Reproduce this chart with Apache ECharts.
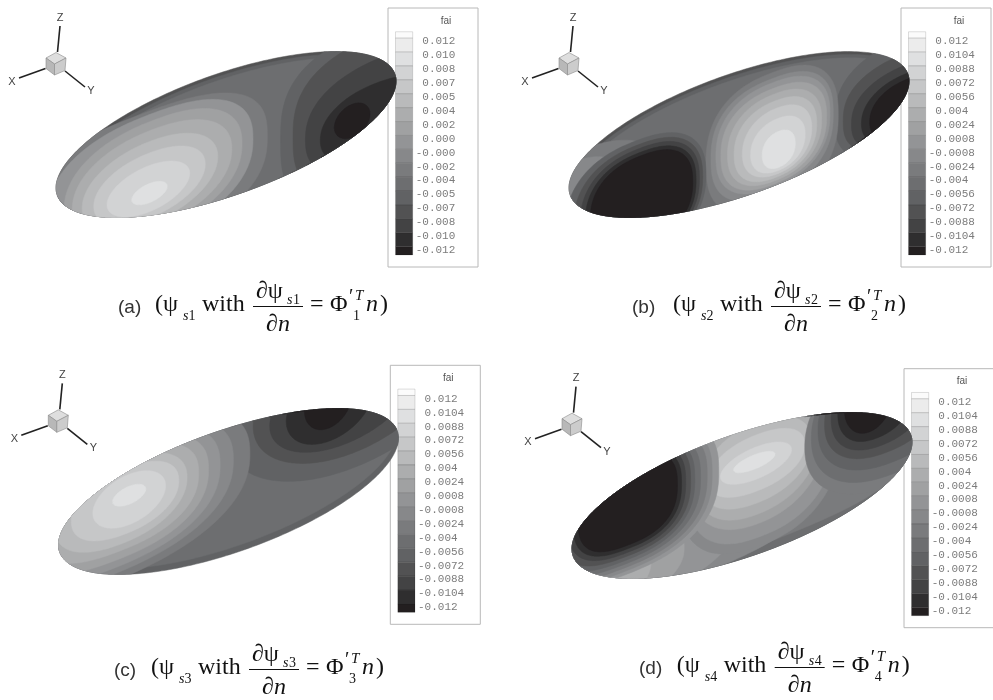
<!DOCTYPE html>
<html><head><meta charset="utf-8">
<style>html,body{margin:0;padding:0;background:#fff}#c{width:993px;height:700px}</style>
<script src="https://cdn.jsdelivr.net/npm/echarts@6/dist/echarts.min.js"></script></head>
<body><div id="c"></div>
<script>
// colour levels of the "fai" contour legend, top (largest) to bottom
const levelColors = ['#fbfbfb','#ececec','#dfe0e1','#d2d3d4','#c6c7c8','#b9babb','#acadae','#a0a1a2','#939496','#87888a','#7a7b7d','#6d6e70','#616264','#525253','#434344','#2f2e2f','#231f20'];
const ticksA = ['0.012','0.010','0.008','0.007','0.005','0.004','0.002','0.000','-0.000','-0.002','-0.004','-0.005','-0.007','-0.008','-0.010','-0.012'];
const ticksB = ['0.012','0.0104','0.0088','0.0072','0.0056','0.004','0.0024','0.0008','-0.0008','-0.0024','-0.004','-0.0056','-0.0072','-0.0088','-0.0104','-0.012'];
// rim bands: [level, shift of the outline across the body]
const rimA = [[13,0],[12,.05],[11,.11]];
const rimB = [[13,0],[12,.05],[11,.11]];
const rimC = [[12,0],[11,-.1]];
const rimD = [[13,0],[12,.04],[11,.09]];
// contour regions: [level, u min, u max, v min, v max, squareness]
// u runs along the long axis of the body, v across it
const contoursA = [
 [12,.33,1.6,-1.8,.85,3],[13,.405,1.6,-1.7,.7,2.8],[14,.48,1.5,-1.5,.3,2.4],[15,.57,1.25,-1.3,-.1,2.2],[16,.655,.87,-.85,-.3,2],
 [10,-1.3,.25,-1.45,.88,2.6],[8,-1.08,.163,-1.3,.82,2.4],[7,-.98,.097,-1.2,.7,2.3],[6,-.93,.035,-1.1,.55,2.2],[5,-.87,-.05,-1,.37,2.1],[4,-.8,-.126,-.9,.18,2.1],[3,-.72,-.22,-.8,-.03,2],[2,-.57,-.356,-.65,-.33,2]
];
const contoursB = [
 [10,-1.5,-.45,-1.5,.75,2.4],[9,-1.4,-.65,-1.5,.6,2.4],
 [12,.58,1.5,-1.3,.55,2.6],[13,.63,1.5,-1.2,.3,2.6],[14,.68,1.4,-1.2,.1,2.4],[15,.74,1.3,-1.15,-.05,2.2],
 [10,-.2,.6,-1.4,.82,2.5],[9,-.17,.57,-1.2,.72,2.5],[8,-.14,.55,-1.1,.65,2.4],[7,-.11,.53,-1.05,.55,2.4],[6,-.07,.5,-1,.45,2.3],[5,-.03,.47,-.95,.33,2.3],[4,.02,.44,-.9,.2,2.2],[3,.07,.4,-.85,.02,2.2],[2,.14,.34,-.8,-.2,2.2],
 [16,.79,1.25,-1.1,-.15,2.2],
 [12,-1.05,-.2,-1.45,.55,2.4],[13,-1,-.22,-1.4,.47,2.4],[14,-.96,-.24,-1.35,.4,2.4],[15,-.93,-.26,-1.3,.33,2.4],[16,-.9,-.28,-1.25,.27,2.4]
];
const contoursC = [
 [12,0,1.5,-.4,2.2,2],[13,.15,1.35,-.15,2,2],[14,.25,1.15,.05,1.6,2],[15,.35,.88,.2,1.4,2],[16,.46,.75,.42,1.3,2],
 [10,-1.7,.13,-.77,1.77,2.4],[9,-1.55,.03,-.65,1.65,2.4],[8,-1.4,-.05,-.55,1.55,2.4],[7,-1.25,-.12,-.43,1.43,2.4],[6,-1.15,-.18,-.3,1.3,2.4],[5,-1.05,-.25,-.19,1.19,2.2],[4,-.95,-.3,-.05,1.05,2.2],[3,-.82,-.38,.08,.92,2],[2,-.7,-.5,.42,.72,2]
];
const contoursD = [
 [10,-1.5,1,-.95,1,4],[9,-1.3,.45,-1.05,.6,3],[8,-1.3,-.05,-1.1,.3,2.6],[7,-1.25,-.35,-1.1,.1,2.4],[6,-1.2,-.55,-1.05,0,2.2],
 [9,-.38,.6,-.95,1.85,2.4],[8,-.33,.56,-.8,1.7,2.4],[7,-.3,.5,-.57,1.47,2.2],[6,-.27,.46,-.41,1.31,2.2],[5,-.24,.42,-.22,1.12,2.2],[4,-.2,.38,-.02,.92,2.2],[3,-.13,.3,.18,.72,2],[2,-.05,.2,.36,.6,2],
 [10,.38,1.5,-.8,1.6,2.2],[11,.42,1.4,-.6,1.6,2.2],[12,.46,1.35,-.4,1.6,2.2],[13,.5,1.25,-.2,1.5,2.2],[14,.54,1.15,-.05,1.45,2.2],[15,.58,1.05,.1,1.4,2.2],[16,.62,.92,.25,1.3,2],
 [8,-1.32,-.14,-.58,1.7,2.6],[9,-1.28,-.18,-.52,1.65,2.6],[10,-1.25,-.21,-.46,1.6,2.6],[11,-1.2,-.25,-.4,1.55,2.6],[12,-1.15,-.285,-.34,1.5,2.6],[13,-1.1,-.31,-.28,1.45,2.6],[14,-1.05,-.34,-.22,1.4,2.6],[15,-1.02,-.365,-.16,1.35,2.6],[16,-.99,-.39,-.1,1.3,2.6]
];
// body centres, legend and caption placement of the four panels
const bodyCentres = [[226,134.5],[739,134.5],[228.5,491.5],[742,495.5]];
const panelOffsets = [[0,0],[513,0],[2.3,357.3],[516,360.7]];
const captionOffsets = [[0,0],[518,0],[-4,363],[521.7,361]];
const panelLetters = ['(a)','(b)','(c)','(d)'];
const letterX = [118,632,114,639];
const subIdx = ['1','2','3','4'];

// body outline
const A = 179.3, B = 60.2, TH = 19.75 * Math.PI / 180;
// frame in which the contour regions were read
const FA = 177, FB = 56, FTH = 20.9 * Math.PI / 180, SKEW = .12;
function clampToBody(x, y) {
  const U = (x * Math.cos(TH) - y * Math.sin(TH)) / A;
  const V = (-x * Math.sin(TH) - y * Math.cos(TH)) / B;
  const r = Math.hypot(U, V), k = r > 1 ? 1 / r : 1;
  return [A * U * k * Math.cos(TH) - B * V * k * Math.sin(TH), -A * U * k * Math.sin(TH) - B * V * k * Math.cos(TH)];
}
function contourItem(centre) {
  return function (params, api) {
    const lvl = api.value(0), u0 = api.value(1), u1 = api.value(2), v0 = api.value(3), v1 = api.value(4), p = api.value(5);
    const cu = (u0 + u1) / 2, ru = (u1 - u0) / 2, cv = (v0 + v1) / 2, rv = (v1 - v0) / 2;
    const pts = [];
    for (let i = 0; i < 240; i++) {
      const t = i / 240 * 2 * Math.PI, c = Math.cos(t), s = Math.sin(t);
      const v = cv + rv * Math.sign(s) * Math.pow(Math.abs(s), 2 / p);
      const u = cu + ru * Math.sign(c) * Math.pow(Math.abs(c), 2 / p) + SKEW * v;
      const q = clampToBody(FA * u * Math.cos(FTH) - FB * v * Math.sin(FTH), -FA * u * Math.sin(FTH) - FB * v * Math.cos(FTH));
      pts.push(api.coord([centre[0] + q[0], centre[1] + q[1]]));
    }
    return { type: 'polygon', shape: { points: pts }, style: { fill: levelColors[lvl], stroke: levelColors[lvl], lineWidth: .5 } };
  };
}
function rimItem(centre) {
  return function (params, api) {
    const lvl = api.value(0), sh = api.value(1);
    const pts = [];
    for (let i = 0; i < 240; i++) {
      const t = i / 240 * 2 * Math.PI, u = Math.cos(t), v = Math.sin(t) - sh;
      const q = clampToBody(A * u * Math.cos(TH) - B * v * Math.sin(TH), -A * u * Math.sin(TH) - B * v * Math.cos(TH));
      pts.push(api.coord([centre[0] + q[0], centre[1] + q[1]]));
    }
    return { type: 'polygon', shape: { points: pts }, style: { fill: levelColors[lvl], stroke: levelColors[lvl], lineWidth: .5 } };
  };
}
const legendItem = function (params, api) {
  const i = api.value(0);
  const from = Math.max(-0.7, i - 1.24), to = Math.min(15.36, i - 0.24);
  const a = api.coord([0, from]), b = api.coord([1, to]);
  return { type: 'rect', shape: { x: a[0], y: a[1], width: b[0] - a[0], height: b[1] - a[1] },
    style: { fill: levelColors[i], stroke: 'rgba(0,0,0,.13)', lineWidth: 1 } };
};

const grids = [{ left: 0, top: 0, width: 993, height: 700 }];
const xAxes = [{ gridIndex: 0, type: 'value', min: 0, max: 993, show: false }];
const yAxes = [{ gridIndex: 0, type: 'value', min: 0, max: 700, inverse: true, show: false }];
const series = [];
const graphics = [];
const allRims = [rimA, rimB, rimC, rimD];
const allContours = [contoursA, contoursB, contoursC, contoursD];
const allTicks = [ticksA, ticksB, ticksB, ticksB];

allContours.forEach((rows, k) => {
  series.push({ type: 'custom', xAxisIndex: 0, yAxisIndex: 0, z: 5, silent: true, renderItem: rimItem(bodyCentres[k]), data: allRims[k], encode: { x: 1, y: 0 } });
  series.push({ type: 'custom', xAxisIndex: 0, yAxisIndex: 0, z: 6, silent: true, renderItem: contourItem(bodyCentres[k]), data: rows, encode: { x: 1, y: 3 } });
});

panelOffsets.forEach((o, k) => {
  const ox = o[0], oy = o[1];
  const step = 13.9;
  grids.push({ left: 395.5 + ox, top: 41.5 + oy - step, width: 17.2, height: step * 17 });
  xAxes.push({ gridIndex: k + 1, type: 'value', min: 0, max: 1, show: false });
  const ticks = allTicks[k];
  yAxes.push({ gridIndex: k + 1, type: 'value', min: -1, max: 16, interval: 1, inverse: true, position: 'right',
    axisLine: { show: false }, axisTick: { show: false }, splitLine: { show: false },
    axisLabel: { margin: 3, color: '#7c7c7c', fontFamily: 'Liberation Mono', fontSize: 11, align: 'left',
      showMinLabel: false, showMaxLabel: false,
      formatter: v => { const s = ticks[v]; if (s === undefined) return ''; return s[0] === '-' ? s : '\u00a0' + s; } } });
  series.push({ type: 'custom', xAxisIndex: k + 1, yAxisIndex: k + 1, z: 3, silent: true, renderItem: legendItem,
    data: levelColors.map((c, i) => [i]), encode: { y: 0 } });

  graphics.push({ type: 'rect', z: 0, shape: { x: 388 + ox, y: 8 + oy, width: 90, height: 259 }, style: { fill: '#fff', stroke: '#b8b8b8', lineWidth: 1 } });
  graphics.push({ type: 'text', z: 4, x: 446 + ox, y: 21 + oy, style: { text: 'fai', font: '10px "Liberation Sans"', fill: '#555', align: 'center', verticalAlign: 'middle' } });

  // axis triad
  const L = (x1, y1, x2, y2, w, c) => graphics.push({ type: 'line', z: 4, shape: { x1: x1 + ox, y1: y1 + oy, x2: x2 + ox, y2: y2 + oy }, style: { stroke: c || '#222', lineWidth: w || 1.6 } });
  L(60, 26, 57.5, 52); L(45.5, 68.5, 19, 78); L(65, 71, 85, 87);
  const P = (pts, f) => graphics.push({ type: 'polygon', z: 4, shape: { points: pts.map(p => [p[0] + ox, p[1] + oy]) }, style: { fill: f, stroke: '#8a8a8a', lineWidth: .6 } });
  P([[46,58],[56,52.5],[66,58],[54.5,64]], '#dedede');
  P([[46,58],[54.5,64],[54.5,75],[46,68.5]], '#b8b8b8');
  P([[54.5,64],[66,58],[65,70.5],[54.5,75]], '#cccccc');
  [['Z',60,17.5],['X',12,81.5],['Y',91,91]].forEach(t => graphics.push({ type: 'text', z: 4, x: t[1] + ox, y: t[2] + oy, style: { text: t[0], font: '11px "Liberation Sans"', fill: '#444', align: 'center', verticalAlign: 'middle' } }));

  // caption
  const c = captionOffsets[k];
  const T = (s, x, y, font, fill) => graphics.push({ type: 'text', z: 7, x: x + c[0], y: y + c[1], style: { text: s, font: font, fill: fill || '#111', align: 'left', verticalAlign: 'middle' } });
  const SERIF = '"Liberation Serif"', n = subIdx[k];
  graphics.push({ type: 'text', z: 7, x: letterX[k], y: 308 + c[1], style: { text: panelLetters[k], font: '19px "Liberation Sans"', fill: '#333', align: 'left', verticalAlign: 'middle' } });
  T('(\u03c8', 155, 305, '24px ' + SERIF);
  T('s', 183, 316, 'italic 14px ' + SERIF); T(n, 188.5, 316, '14px ' + SERIF);
  T('with', 202, 305, '24px ' + SERIF);
  T('\u2202\u03c8', 256, 292, '24px ' + SERIF);
  T('s', 287, 300, 'italic 14px ' + SERIF); T(n, 293, 300, '14px ' + SERIF);
  graphics.push({ type: 'line', z: 7, shape: { x1: 253 + c[0], y1: 306.5 + c[1], x2: 303 + c[0], y2: 306.5 + c[1] }, style: { stroke: '#111', lineWidth: 1 } });
  T('\u2202', 266, 325, '24px ' + SERIF); T('n', 278, 325, 'italic 24px ' + SERIF);
  T('=', 310, 305, '24px ' + SERIF);
  T('\u03a6', 330, 305, '24px ' + SERIF);
  T('\u2032', 349, 298, '20px ' + SERIF);
  T('T', 355, 296, 'italic 15px ' + SERIF);
  T(n, 353, 316, '14px ' + SERIF);
  T('n', 366, 305, 'italic 24px ' + SERIF);
  T(')', 380, 305, '24px ' + SERIF);
});

const chart = echarts.init(document.getElementById('c'), null, { renderer: 'canvas' });
chart.setOption({ animation: false, backgroundColor: '#fff', grid: grids, xAxis: xAxes, yAxis: yAxes, series: series, graphic: { elements: graphics } });
</script></body></html>
